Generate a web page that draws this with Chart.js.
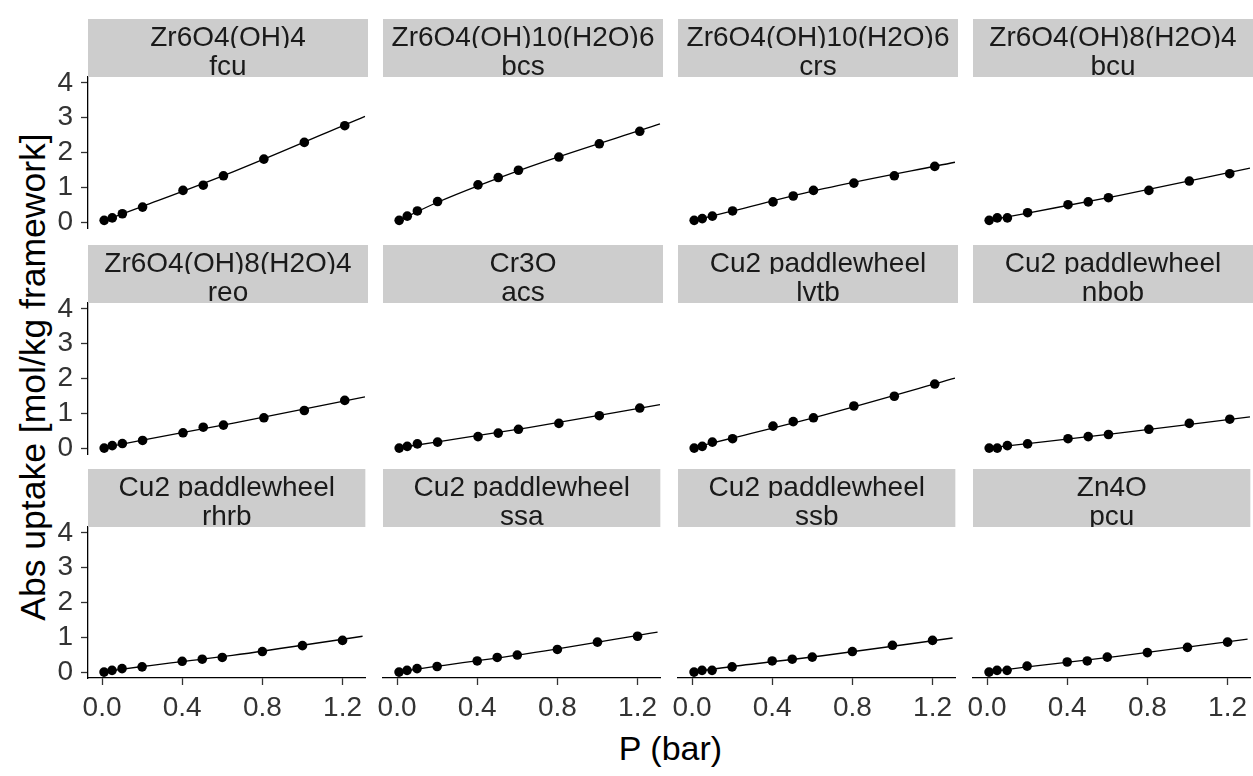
<!DOCTYPE html>
<html>
<head>
<meta charset="utf-8">
<script src="https://cdn.jsdelivr.net/npm/chart.js@4.4.1/dist/chart.umd.min.js"></script>
<style>
  body { margin: 0; background: #fff; width: 1253px; height: 776px; position: relative; overflow: hidden;
         font-family: "Liberation Sans", Arial, sans-serif; }
  .panel { position: absolute; }
  #xtitle { position: absolute; left: 88px; width: 1165px; top: 728px; height: 40px; line-height: 40px;
            text-align: center; font-size: 34px; color: #000; }
  #ytitle { position: absolute; left: -267px; top: 357px; width: 600px; height: 40px; line-height: 40px;
            text-align: center; font-size: 35.5px; color: #000; transform: rotate(-90deg); }
</style>
</head>
<body>
<div id="xtitle">P (bar)</div>
<div id="ytitle">Abs uptake [mol/kg framework]</div>
<script>
// Pressure points (bar) shared by every panel
const pressure = [0.01, 0.05, 0.1, 0.2, 0.4, 0.5, 0.6, 0.8, 1.0, 1.2];
// Fitted curve sample positions
const fitX = [0, 0.2, 0.65, 1.3];

const xTicks = [0.0, 0.4, 0.8, 1.2];
const yTicks = [0, 1, 2, 3, 4];

// Facet labels (two strips per panel)
const metals = ['Zr6O4(OH)4', 'Zr6O4(OH)10(H2O)6', 'Zr6O4(OH)10(H2O)6', 'Zr6O4(OH)8(H2O)4',
                'Zr6O4(OH)8(H2O)4', 'Cr3O', 'Cu2 paddlewheel', 'Cu2 paddlewheel',
                'Cu2 paddlewheel', 'Cu2 paddlewheel', 'Cu2 paddlewheel', 'Zn4O'];
const topologies = ['fcu', 'bcs', 'crs', 'bcu', 'reo', 'acs', 'lvtb', 'nbob', 'rhrb', 'ssa', 'ssb', 'pcu'];

// Measured uptake per panel
const upFcu  = [0.05, 0.12, 0.24, 0.43, 0.91, 1.06, 1.33, 1.81, 2.29, 2.77];
const upBcs  = [0.05, 0.17, 0.32, 0.59, 1.07, 1.28, 1.49, 1.87, 2.25, 2.61];
const upCrs  = [0.05, 0.10, 0.17, 0.32, 0.58, 0.75, 0.91, 1.12, 1.33, 1.60];
const upBcu  = [0.05, 0.12, 0.12, 0.27, 0.50, 0.58, 0.70, 0.91, 1.18, 1.39];
const upReo  = [0.00, 0.07, 0.13, 0.22, 0.44, 0.60, 0.66, 0.87, 1.08, 1.37];
const upAcs  = [0.00, 0.05, 0.12, 0.17, 0.33, 0.43, 0.54, 0.71, 0.93, 1.15];
const upLvtb = [0.00, 0.05, 0.17, 0.27, 0.63, 0.76, 0.87, 1.21, 1.49, 1.84];
const upNbob = [0.00, 0.00, 0.07, 0.12, 0.27, 0.33, 0.39, 0.54, 0.71, 0.83];
const upRhrb = [0.00, 0.05, 0.10, 0.15, 0.31, 0.37, 0.42, 0.59, 0.76, 0.91];
const upSsa  = [0.00, 0.05, 0.10, 0.16, 0.32, 0.42, 0.49, 0.65, 0.86, 1.03];
const upSsb  = [0.00, 0.05, 0.05, 0.15, 0.32, 0.37, 0.43, 0.59, 0.77, 0.91];
const upPcu  = [0.00, 0.05, 0.05, 0.17, 0.29, 0.32, 0.43, 0.56, 0.71, 0.86];

// Fitted line values at fitX
const fitFcu  = [0.02, 0.45, 1.45, 3.04];
const fitBcs  = [0.02, 0.57, 1.58, 2.82];
const fitCrs  = [0.03, 0.32, 0.96, 1.72];
const fitBcu  = [0.04, 0.26, 0.76, 1.55];
const fitReo  = [0.00, 0.23, 0.72, 1.47];
const fitAcs  = [0.00, 0.18, 0.59, 1.25];
const fitLvtb = [0.00, 0.29, 0.95, 2.01];
const fitNbob = [0.00, 0.13, 0.43, 0.90];
const fitRhrb = [0.00, 0.16, 0.48, 1.03];
const fitSsa  = [0.00, 0.17, 0.53, 1.15];
const fitSsb  = [0.00, 0.16, 0.47, 0.98];
const fitPcu  = [0.00, 0.15, 0.45, 0.95];

const uptakes = [upFcu, upBcs, upCrs, upBcu, upReo, upAcs, upLvtb, upNbob, upRhrb, upSsa, upSsb, upPcu];
const fits = [fitFcu, fitBcs, fitCrs, fitBcu, fitReo, fitAcs, fitLvtb, fitNbob, fitRhrb, fitSsa, fitSsb, fitPcu];

// Grid geometry
const colLeft = [88, 383, 678, 973];
const stripTop = [19, 245, 469];
const panelW = 280, panelH = 151, stripH = 58, axisW = 88, axisH = 60;
const FONT = '"Liberation Sans", Arial, sans-serif';

// Draws the two grey facet strips above each panel
const stripPlugin = {
  id: 'strips',
  afterDraw(chart, args, opts) {
    const { ctx, chartArea } = chart;
    const { left, right, top } = chartArea;
    opts.lines.forEach((txt, i) => {
      const y0 = top - stripH + i * 29;
      ctx.save();
      ctx.beginPath();
      ctx.rect(left, y0, right - left, 29);
      ctx.clip();
      ctx.fillStyle = '#CDCDCD';
      ctx.fillRect(left, y0, right - left, 29);
      ctx.fillStyle = '#1A1A1A';
      ctx.font = '28px ' + FONT;
      ctx.textAlign = 'center';
      ctx.textBaseline = 'alphabetic';
      ctx.fillText(txt, (left + right) / 2, y0 + 27);
      ctx.restore();
    });
  }
};

for (let i = 0; i < 12; i++) {
  const row = Math.floor(i / 4), col = i % 4;
  const isLeft = col === 0, isBottom = row === 2;

  const div = document.createElement('div');
  div.className = 'panel';
  div.style.left = (colLeft[col] - axisW) + 'px';
  div.style.top = stripTop[row] + 'px';
  const canvas = document.createElement('canvas');
  canvas.width = axisW + panelW;
  canvas.height = stripH + panelH + axisH;
  div.appendChild(canvas);
  document.body.appendChild(div);

  new Chart(canvas, {
    type: 'scatter',
    data: {
      datasets: [
        {
          type: 'line',
          data: fitX.map((x, k) => ({ x: x, y: fits[i][k] })),
          borderColor: '#000',
          borderWidth: 1.3,
          pointRadius: 0,
          fill: false,
          cubicInterpolationMode: 'monotone'
        },
        {
          data: pressure.map((x, k) => ({ x: x, y: uptakes[i][k] })),
          backgroundColor: '#000',
          borderColor: '#000',
          borderWidth: 0,
          pointRadius: 4.8
        }
      ]
    },
    options: {
      responsive: false,
      animation: false,
      devicePixelRatio: 1,
      layout: { autoPadding: false, padding: { top: stripH, left: 0, right: 0, bottom: 0 } },
      plugins: {
        legend: { display: false },
        tooltip: { enabled: false },
        strips: { lines: [metals[i], topologies[i]] }
      },
      scales: {
        x: {
          type: 'linear',
          min: -0.07,
          max: 1.315,
          afterBuildTicks: s => { s.ticks = xTicks.map(v => ({ value: v })); },
          afterFit: s => { s.height = axisH; },
          ticks: {
            display: isBottom,
            autoSkip: false,
            maxRotation: 0,
            padding: 6,
            color: '#333',
            font: { size: 28, family: FONT },
            callback: v => Number(v).toFixed(1)
          },
          grid: { display: isBottom, drawOnChartArea: false, tickLength: 7, tickColor: '#333', tickWidth: 1.3 },
          border: { display: isBottom, color: '#000', width: 1.3 }
        },
        y: {
          type: 'linear',
          min: -0.17,
          max: 4.17,
          afterBuildTicks: s => { s.ticks = yTicks.map(v => ({ value: v })); },
          afterFit: s => { s.width = axisW; },
          ticks: {
            display: isLeft,
            padding: 8,
            color: '#333',
            font: { size: 28, family: FONT },
            callback: v => String(v)
          },
          grid: { display: isLeft, drawOnChartArea: false, tickLength: 7, tickColor: '#333', tickWidth: 1.3 },
          border: { display: isLeft, color: '#000', width: 1.3 }
        }
      }
    },
    plugins: [stripPlugin]
  });
}
</script>
</body>
</html>
